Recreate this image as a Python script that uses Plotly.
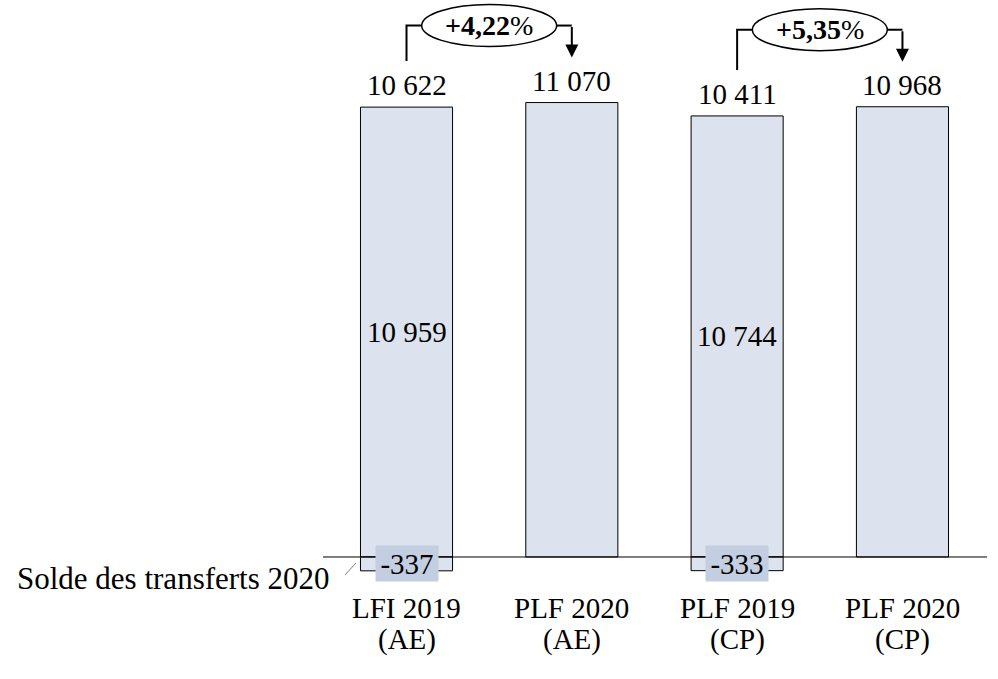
import plotly.graph_objects as go

# ---------------- data ----------------
categories = ["LFI 2019", "PLF 2020", "PLF 2019", "PLF 2020"]
units = ["(AE)", "(AE)", "(CP)", "(CP)"]
base_values = [10959, 11070, 10744, 10968]      # crédits avant transferts
transfers = [-337, 0, -333, 0]                  # solde des transferts 2020
totals = [10622, 11070, 10411, 10968]           # montants affichés au-dessus
change_pct = [4.22, 5.35]                       # évolution entre paires
change_pairs = [(0, 1), (2, 3)]
transfer_label = "Solde des transferts 2020"

# ---------------- styling ----------------
FONT = "Liberation Serif"
FS = 29
BAR_FILL = "#dce3ee"
BOX_FILL = "#c4cee1"

W, H = 998, 679
X_MIN, X_MAX = -2.459, 3.578
Y_MAX, Y_MIN = 13568, -2972
PX_X = (X_MAX - X_MIN) / W      # data units per pixel (x)
PX_Y = (Y_MAX - Y_MIN) / H      # data units per pixel (y)


def fmt(v):
    return f"{v:,}".replace(",", " ")


def fmt_pct(v):
    return "<b>+" + f"{v:.2f}".replace(".", ",") + "</b>%"


x = list(range(len(categories)))

fig = go.Figure()
fig.add_trace(go.Bar(
    x=x, y=base_values, width=0.557,
    marker=dict(color=BAR_FILL, line=dict(color="black", width=1)),
    hoverinfo="skip", showlegend=False,
))
fig.add_trace(go.Bar(
    x=x, y=[t if t != 0 else None for t in transfers], width=0.557,
    marker=dict(color=BAR_FILL, line=dict(color="black", width=1)),
    hoverinfo="skip", showlegend=False,
))

annotations = []
shapes = []

# zero / baseline
shapes.append(dict(type="line", xref="x", yref="y", x0=-0.505, x1=3.512, y0=0, y1=0,
                   line=dict(color="black", width=1), layer="above"))

for i in x:
    # total above bar
    annotations.append(dict(x=i, y=base_values[i], text=fmt(totals[i]), showarrow=False,
                            yanchor="middle", yshift=22, font=dict(size=FS)))
    if transfers[i] != 0:
        annotations.append(dict(x=i, y=base_values[i] / 2, text=fmt(base_values[i]),
                                showarrow=False, yanchor="middle", font=dict(size=FS)))
        annotations.append(dict(x=i, y=transfers[i] / 2, text=fmt(transfers[i]),
                                showarrow=False, yanchor="middle", xanchor="center",
                                width=62, height=35, borderpad=0, bgcolor=BOX_FILL,
                                font=dict(size=FS)))
    # category labels
    annotations.append(dict(x=i, y=-51 * PX_Y, text=categories[i], showarrow=False,
                            yanchor="middle", font=dict(size=FS)))
    annotations.append(dict(x=i, y=-83 * PX_Y, text=units[i], showarrow=False,
                            yanchor="middle", font=dict(size=FS)))

# transfer legend label + leader
annotations.append(dict(x=-0.451, y=-22 * PX_Y, text=transfer_label, showarrow=False,
                        xanchor="right", yanchor="middle", font=dict(size=31)))
shapes.append(dict(type="line", xref="x", yref="y", x0=-0.372, y0=-18 * PX_Y,
                   x1=-0.306, y1=-6 * PX_Y, line=dict(color="#808080", width=1), layer="above"))

# evolution ovals and connectors
for (a, b), pct in zip(change_pairs, change_pct):
    cx = (a + b) / 2
    cy = max(base_values[a], base_values[b]) + 77 * PX_Y
    rx = 67.5 * PX_X
    ry = 21 * PX_Y
    shapes.append(dict(type="path", xref="x", yref="y",
                       path=f"M {a},{base_values[a] + 46 * PX_Y} L {a},{cy} L {cx - rx},{cy}",
                       line=dict(color="black", width=2), layer="above"))
    shapes.append(dict(type="line", xref="x", yref="y", x0=cx + rx, x1=b, y0=cy, y1=cy,
                       line=dict(color="black", width=2), layer="above"))
    shapes.append(dict(type="circle", xref="x", yref="y", x0=cx - rx, x1=cx + rx,
                       y0=cy - ry, y1=cy + ry, fillcolor="white",
                       line=dict(color="black", width=1.5), layer="above"))
    tip = base_values[b] + 45 * PX_Y
    annotations.append(dict(x=b, y=tip, ax=0, ay=-(cy - tip) / PX_Y, text="",
                            showarrow=True, arrowhead=2, arrowsize=1.3, arrowwidth=2,
                            arrowcolor="black", standoff=0))
    annotations.append(dict(x=cx, y=cy, text=fmt_pct(pct), showarrow=False,
                            yanchor="middle", font=dict(size=28)))

fig.update_layout(
    width=W, height=H,
    margin=dict(l=0, r=0, t=0, b=0),
    paper_bgcolor="white", plot_bgcolor="white",
    barmode="relative",
    font=dict(family=FONT, color="black", size=FS),
    xaxis=dict(range=[X_MIN, X_MAX], visible=False, fixedrange=True),
    yaxis=dict(range=[Y_MIN, Y_MAX], visible=False, fixedrange=True),
    shapes=shapes,
    annotations=annotations,
    showlegend=False,
)

fig.write_html("out.html", config={"displayModeBar": False},
               post_script="document.body.style.margin='0';")
